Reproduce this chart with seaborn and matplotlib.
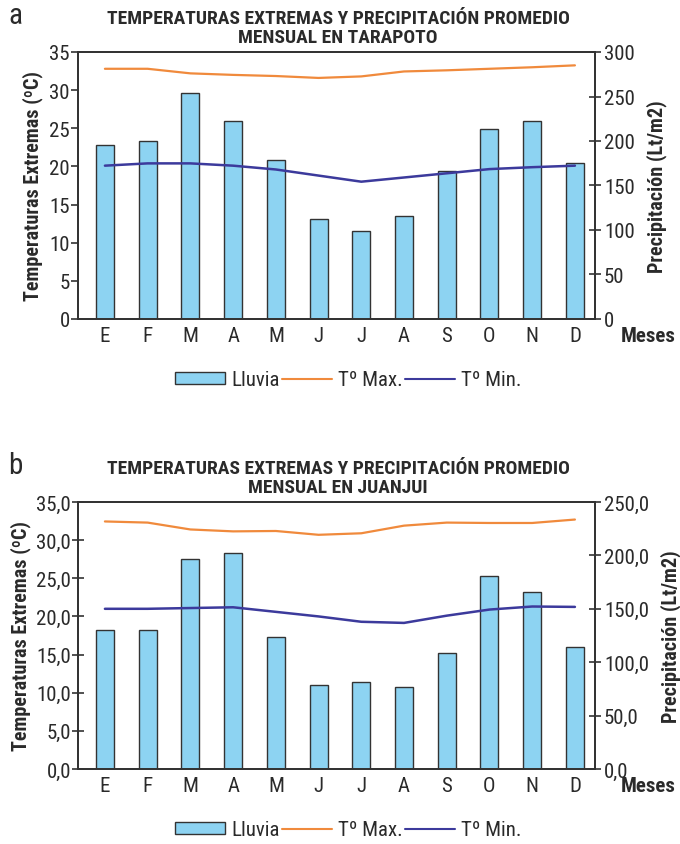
import seaborn as sns
import pandas as pd
import numpy as np
import matplotlib
matplotlib.use('Agg')
import matplotlib.pyplot as plt
from matplotlib.patches import Patch
from matplotlib.lines import Line2D
from matplotlib.ticker import FixedLocator, FuncFormatter

# months
meses = ['E', 'F', 'M', 'A', 'M', 'J', 'J', 'A', 'S', 'O', 'N', 'D']

# Tarapoto
lluvia_tar = [196, 200, 254, 223, 179, 112, 99, 116, 166, 214, 223, 175]
tmax_tar = [32.8, 32.8, 32.2, 32.0, 31.85, 31.6, 31.8, 32.45, 32.6, 32.8, 33.0, 33.25]
tmin_tar = [20.1, 20.4, 20.4, 20.1, 19.6, 18.8, 18.0, 18.55, 19.1, 19.65, 19.9, 20.1]

# Juanjui
lluvia_jua = [130, 130, 197, 202, 124, 79, 81, 77, 109, 181, 166, 114]
tmax_jua = [32.45, 32.3, 31.4, 31.15, 31.2, 30.7, 30.9, 31.9, 32.3, 32.25, 32.25, 32.7]
tmin_jua = [21.0, 21.0, 21.1, 21.2, 20.6, 20.0, 19.3, 19.15, 20.1, 20.9, 21.3, 21.25]

sns.set_style('white')
plt.rcParams['font.family'] = ['Roboto Condensed', 'DejaVu Sans']

BAR = '#8dd3f2'
EDGE = '#333333'
ORANGE = '#f08a3c'
BLUE = '#3c3a9c'
AXC = '#333333'
TXT = '#2a2a2a'

fig = plt.figure(figsize=(6.8, 8.45), dpi=100)


def panel(bottom, letter, place, lluvia, tmax, tmin, pmax, comma):
    ax = fig.add_axes([78/680, bottom, 517/680, 267/845])
    ax2 = ax.twinx()
    df = pd.DataFrame({'pos': np.arange(12), 'mes': meses, 'lluvia': lluvia,
                       'tmax': tmax, 'tmin': tmin})
    sns.barplot(x='pos', y='lluvia', data=df, ax=ax2, color=BAR, width=0.42,
                edgecolor=EDGE, linewidth=1.0, saturation=1, native_scale=True)
    sns.lineplot(x='pos', y='tmax', data=df, ax=ax, color=ORANGE, lw=1.6)
    sns.lineplot(x='pos', y='tmin', data=df, ax=ax, color=BLUE, lw=1.8)
    # lines above the bars
    ax.set_zorder(ax2.get_zorder() + 1)
    ax.patch.set_visible(False)

    ax.set_xlim(-0.63, 11.47)
    ax.set_ylim(0, 35)
    ax2.set_ylim(0, pmax)
    ax.set_yticks(np.arange(0, 36, 5))
    ax2.set_yticks(np.arange(0, pmax + 1, 50))
    if comma:
        f = FuncFormatter(lambda v, p: f'{v:.1f}'.replace('.', ','))
        ax.yaxis.set_major_formatter(f)
        ax2.yaxis.set_major_formatter(f)
        ax.tick_params(axis='y', direction='inout', length=8)
    else:
        ax.yaxis.set_major_formatter(FuncFormatter(lambda v, p: f'{v:.0f}'))
        ax2.yaxis.set_major_formatter(FuncFormatter(lambda v, p: f'{v:.0f}'))
        ax.tick_params(axis='y', direction='out', length=5)
    ax2.tick_params(axis='y', direction='inout', length=9, width=1.2, color=AXC,
                    labelsize=15, pad=2, labelcolor=TXT)
    ax.tick_params(axis='y', width=1.2, color=AXC, labelsize=15, pad=1, labelcolor=TXT)

    ax.set_xticks(np.arange(12))
    ax.set_xticklabels(meses)
    ax.xaxis.set_minor_locator(FixedLocator(np.arange(0.5, 11, 1)))
    ax.tick_params(axis='x', which='major', length=0, labelsize=15, pad=5, labelcolor=TXT)
    ax.tick_params(axis='x', which='minor', direction='inout', length=9, width=1.2, color=AXC)
    ax2.set_xlabel('')
    ax.set_xlabel('')

    for a in (ax, ax2):
        for s in a.spines.values():
            s.set_color(AXC)
            s.set_linewidth(1.3)

    ax.set_ylabel('Temperaturas Extremas (ºC)', fontsize=14.5, fontweight='bold',
                  labelpad=4, color=TXT)
    ax2.set_ylabel('Precipitación (Lt/m2)', fontsize=14.5, fontweight='bold',
                   labelpad=8, color=TXT)
    ax.text(1.05, -0.025, 'Meses', transform=ax.transAxes, fontsize=15,
            fontweight='bold', va='top', ha='left', color=TXT)

    top = bottom + 267/845
    fig.text(8/680, top + 37/845, letter, fontsize=21, va='center', ha='left', color=TXT)
    fig.text(338/680, top + 34/845, 'TEMPERATURAS EXTREMAS Y PRECIPITACIÓN PROMEDIO',
             fontsize=14, fontweight='bold', ha='center', va='center', color=TXT)
    fig.text(338/680, top + 15/845, 'MENSUAL EN ' + place,
             fontsize=14, fontweight='bold', ha='center', va='center', color=TXT)

    handles = [Patch(facecolor=BAR, edgecolor=EDGE, linewidth=1.0),
               Line2D([], [], color=ORANGE, lw=1.5),
               Line2D([], [], color=BLUE, lw=1.5)]
    fig.legend(handles, ['Lluvia', 'Tº Max.', 'Tº Min.'], ncol=3, frameon=False,
               loc='center', bbox_to_anchor=(348/680, bottom - 61/845),
               fontsize=15, handlelength=2.4, handleheight=0.55, handletextpad=0.3,
               columnspacing=0.1, labelcolor=TXT)


panel(1 - 320/845, 'a', 'TARAPOTO', lluvia_tar, tmax_tar, tmin_tar, 300, False)
panel(1 - 770/845, 'b', 'JUANJUI', lluvia_jua, tmax_jua, tmin_jua, 250, True)

fig.savefig('out.png', dpi=100)
